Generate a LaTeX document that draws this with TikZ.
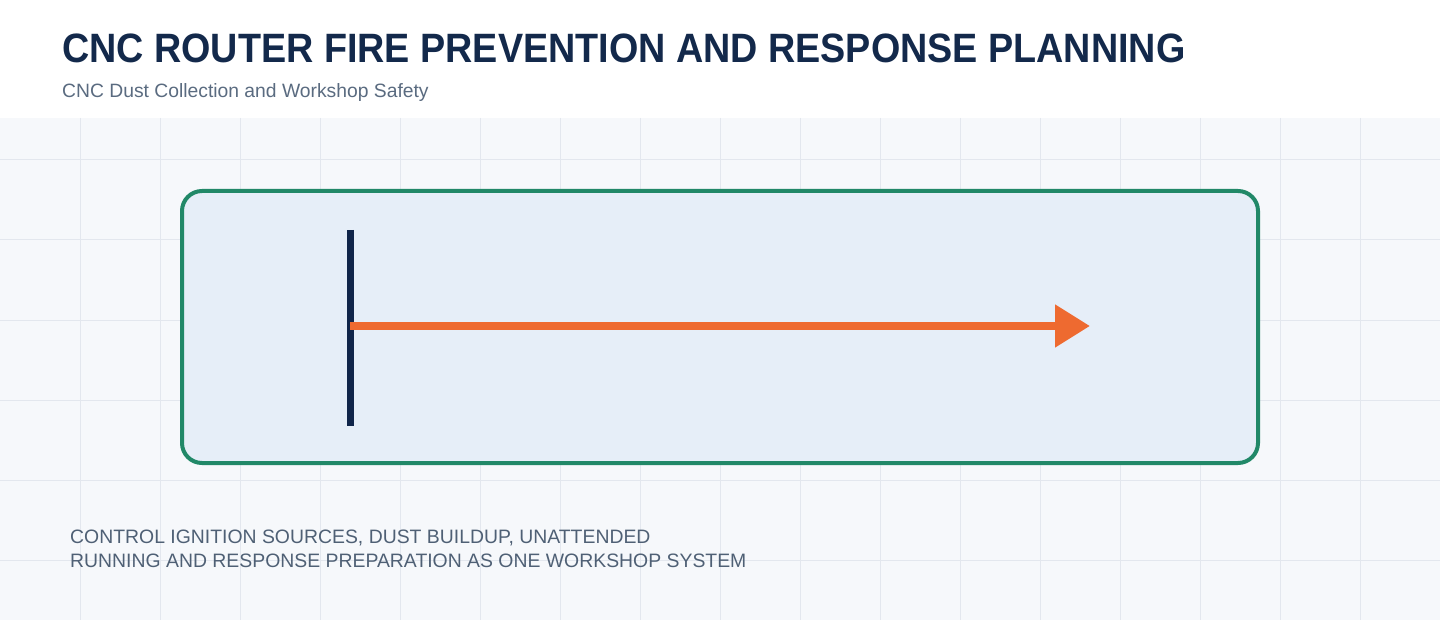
\documentclass[tikz,border=0pt]{standalone}
\usepackage{fontspec}
\setmainfont{Liberation Sans}
\newfontfamily\titlefamily[FakeStretch=0.92]{Liberation Sans}
\usetikzlibrary{arrows.meta}
\definecolor{bgpage}{HTML}{F6F8FB}
\definecolor{gridc}{HTML}{E3E7EE}
\definecolor{titlec}{HTML}{13294B}
\definecolor{subc}{HTML}{5A6B80}
\definecolor{notec}{HTML}{4F6075}
\definecolor{framec}{HTML}{218868}
\definecolor{panelc}{HTML}{E6EEF8}
\definecolor{barc}{HTML}{10254A}
\definecolor{flowc}{HTML}{EE6A30}
\tikzset{
  panel/.style={draw=framec, line width=4pt, fill=panelc, rounded corners=20pt},
  barline/.style={draw=barc, line width=7pt},
  flowline/.style={draw=flowc, line width=8pt, -{Triangle[length=35pt,width=41pt]}},
  titletext/.style={anchor=base west, inner sep=0pt, text=titlec, font=\titlefamily\fontsize{41}{48}\selectfont\bfseries},
  subtext/.style={anchor=base west, inner sep=0pt, text=subc, font=\fontsize{19.3}{22}\selectfont},
  notetext/.style={anchor=base west, inner sep=0pt, text=notec, font=\fontsize{19.4}{24}\selectfont, align=left},
}
\begin{document}
\begin{tikzpicture}[x=1pt,y=-1pt]
\useasboundingbox (0,0) rectangle (1440,620);
\fill[white] (0,0) rectangle (1440,118);
\fill[bgpage] (0,118) rectangle (1440,620);
\foreach \gx in {80,160,...,1400} \draw[gridc, line width=1pt] (\gx,118) -- (\gx,620);
\foreach \gy in {160,240,...,560} \draw[gridc, line width=1pt] (0,\gy) -- (1440,\gy);
\node[titletext] (title) at (62,63) {CNC ROUTER FIRE PREVENTION AND RESPONSE PLANNING};
\node[subtext] (subtitle) at (62,98) {CNC Dust Collection and Workshop Safety};
\draw[panel] (182,191) rectangle (1258,463);
\coordinate (barTop) at (350.5,230);
\coordinate (barBot) at (350.5,426);
\coordinate (flowStart) at (350,326);
\coordinate (flowEnd) at (1090,326);
\draw[barline] (barTop) -- (barBot);
\draw[flowline] (flowStart) -- (flowEnd);
\node[notetext] (note1) at (70,543) {CONTROL IGNITION SOURCES, DUST BUILDUP, UNATTENDED};
\node[notetext] (note2) at (70,567) {RUNNING AND RESPONSE PREPARATION AS ONE WORKSHOP SYSTEM};
\end{tikzpicture}
\end{document}
